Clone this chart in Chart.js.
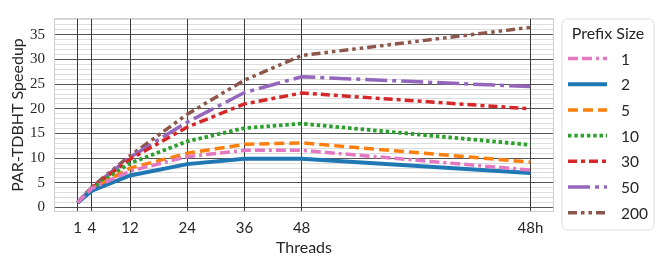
<!DOCTYPE html>
<html><head><meta charset="utf-8">
<script src="https://cdn.jsdelivr.net/npm/chart.js@4.4.0/dist/chart.umd.min.js"></script>
<style>html,body{margin:0;padding:0;background:#fff;overflow:hidden}canvas{display:block}</style>
</head><body>
<canvas id="c" width="664" height="266"></canvas>
<script>
// ---- data ----
const threads = [1, 4, 12, 24, 36, 48, 96];
const xTickValues = [1, 4, 12, 24, 36, 48, 96];
const xTickLabels = ['1', '4', '12', '24', '36', '48', '48h'];
const prefixSizes = ['1', '2', '5', '10', '30', '50', '200'];
const speedupP1   = [1.0, 3.9, 7.4, 10.3, 11.6, 11.6, 7.6];
const speedupP2   = [1.0, 3.4, 6.5, 8.8, 9.9, 9.9, 7.0];
const speedupP5   = [1.0, 3.7, 8.0, 11.0, 12.8, 13.1, 9.2];
const speedupP10  = [1.0, 3.9, 9.0, 13.4, 16.1, 17.0, 12.7];
const speedupP30  = [1.0, 4.0, 9.8, 16.3, 21.0, 23.2, 20.0];
const speedupP50  = [1.0, 4.1, 10.2, 17.3, 23.3, 26.5, 24.5];
const speedupP200 = [1.0, 4.2, 10.5, 18.9, 25.8, 30.8, 36.5];
const seriesValues = [speedupP1, speedupP2, speedupP5, speedupP10, speedupP30, speedupP50, speedupP200];

// ---- styles ----
const colors = ['#e377c2', '#1f77b4', '#ff7f0e', '#2ca02c', '#d62728', '#9467bd', '#8c564b'];
const dashes = [[10,4,10,4,3,4], [], [10,5], [3.5,2.8], [9,4,4,4], [22,5,4,5], [9,4,3.5,4,3.5,4]];
const widths = [3.5, 4, 3.5, 3.8, 3.5, 3.5, 3.5];

const datasets = prefixSizes.map((p, i) => ({
  label: p,
  data: threads.map((t, j) => ({x: t, y: seriesValues[i][j]})),
  borderColor: colors[i],
  backgroundColor: colors[i],
  borderWidth: widths[i],
  borderDash: dashes[i],
  pointRadius: 0,
  tension: 0,
  fill: false
}));

const TEXT = '#262626';

const framePlugin = {
  id: 'frame',
  beforeDatasetsDraw(chart) {
    const {ctx, chartArea: a} = chart;
    ctx.save();
    ctx.strokeStyle = '#cfcfcf';
    ctx.lineWidth = 1;
    ctx.strokeRect(Math.round(a.left) - 0.5, Math.round(a.top) - 0.5, Math.round(a.right - a.left) + 1, Math.round(a.bottom - a.top) + 1);
    ctx.restore();
  }
};

const legendPlugin = {
  id: 'customLegend',
  afterDraw(chart) {
    const ctx = chart.ctx;
    const bx = 562, by = 19, bw = 92, bh = 211, r = 5;
    ctx.save();
    ctx.beginPath();
    ctx.moveTo(bx + r, by);
    ctx.arcTo(bx + bw, by, bx + bw, by + bh, r);
    ctx.arcTo(bx + bw, by + bh, bx, by + bh, r);
    ctx.arcTo(bx, by + bh, bx, by, r);
    ctx.arcTo(bx, by, bx + bw, by, r);
    ctx.closePath();
    ctx.fillStyle = 'rgba(255,255,255,0.9)';
    ctx.fill();
    ctx.strokeStyle = '#dedede';
    ctx.lineWidth = 1;
    ctx.stroke();

    ctx.fillStyle = TEXT;
    ctx.textBaseline = 'middle';
    ctx.textAlign = 'center';
    ctx.font = '16px Lato';
    ctx.fillText('Prefix Size', bx + bw / 2, 34);

    ctx.textAlign = 'left';
    ctx.font = '15.5px Lato';
    chart.data.datasets.forEach((ds, i) => {
      const y = 58.5 + i * 25.7;
      ctx.save();
      ctx.strokeStyle = ds.borderColor;
      ctx.lineWidth = ds.borderWidth;
      ctx.setLineDash(ds.borderDash || []);
      ctx.lineCap = 'butt';
      ctx.beginPath();
      ctx.moveTo(568, y);
      ctx.lineTo(607, y);
      ctx.stroke();
      ctx.restore();
      ctx.fillStyle = TEXT;
      ctx.fillText(ds.label, 621, y + 1);
    });
    ctx.restore();
  }
};

new Chart(document.getElementById('c'), {
  type: 'line',
  data: {datasets},
  plugins: [framePlugin, legendPlugin],
  options: {
    responsive: false,
    animation: false,
    devicePixelRatio: 1,
    layout: {padding: {left: 0, right: 111, top: 10, bottom: 0}},
    plugins: {legend: {display: false}, tooltip: {enabled: false}},
    scales: {
      x: {
        type: 'linear',
        min: -3.75,
        max: 100.75,
        afterBuildTicks: s => { s.ticks = xTickValues.map(v => ({value: v})); },
        afterFit: s => { s.height = 55; },
        ticks: {
          autoSkip: false, maxRotation: 0, padding: 8,
          font: {family: 'Lato', size: 15}, color: TEXT,
          callback: v => xTickLabels[xTickValues.indexOf(v)]
        },
        grid: {color: '#3c3c3c', lineWidth: 1, drawTicks: false, z: 0},
        border: {display: false},
        title: {display: true, text: 'Threads', font: {family: 'Lato', size: 16}, color: TEXT, padding: {top: 0, bottom: 9}}
      },
      y: {
        type: 'linear',
        min: -0.7,
        max: 38.2,
        afterFit: s => { s.width = 55; },
        ticks: {
          stepSize: 1, autoSkip: false, includeBounds: false, padding: 10,
          font: {family: 'Liberation Serif', size: 15}, color: TEXT,
          callback: v => (Math.round(v) % 5 === 0 ? String(Math.round(v)) : '')
        },
        grid: {
          color: c => (c.tick && Math.round(c.tick.value) % 5 === 0 ? '#555555' : '#dcdcdc'),
          lineWidth: 1, drawTicks: false, z: -1
        },
        border: {display: false},
        title: {display: true, text: 'PAR-TDBHT Speedup', font: {family: 'Lato', size: 16}, color: TEXT, padding: {top: 8, bottom: 0}}
      }
    }
  }
});
</script>
</body></html>
